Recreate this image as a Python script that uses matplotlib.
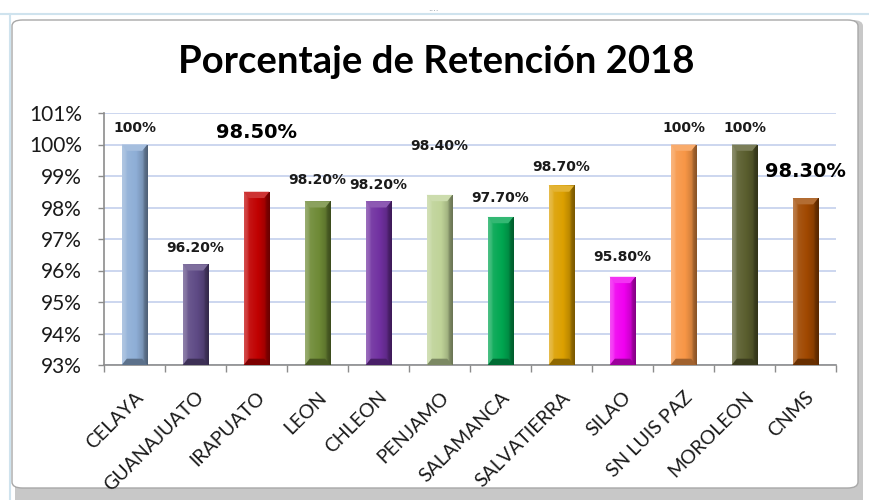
"""Porcentaje de Retención 2018 - bar chart with bevelled Excel-like bars."""

import matplotlib

matplotlib.use("Agg")
import matplotlib.pyplot as plt
import matplotlib.transforms as mtransforms
import numpy as np
from matplotlib.colors import to_rgb
from matplotlib.patches import FancyBboxPatch, Polygon

# ==============================================================================
# DATA
# ==============================================================================

CAMPUSES = [
    "CELAYA", "GUANAJUATO", "IRAPUATO", "LEON", "CHLEON", "PENJAMO",
    "SALAMANCA", "SALVATIERRA", "SILAO", "SN LUIS PAZ", "MOROLEON", "CNMS",
]
RETENTION = [100.0, 96.2, 98.5, 98.2, 98.2, 98.4, 97.7, 98.7, 95.8, 100.0, 100.0, 98.3]
LABELS = ["100%", "96.20%", "98.50%", "98.20%", "98.20%", "98.40%",
          "97.70%", "98.70%", "95.80%", "100%", "100%", "98.30%"]
Y_TICKS = [93, 94, 95, 96, 97, 98, 99, 100, 101]

# ==============================================================================
# STYLE
# ==============================================================================

BAR_COLORS = [
    "#8EAED6", "#5E4A85", "#C00000", "#6E8A36", "#7030A0", "#BFD398",
    "#00A650", "#DCA000", "#F000F0", "#F79646", "#5A5E2E", "#A04800",
]
# label offset above the bar top (points) and whether the label is the large one
LABEL_OFFSET = [12, 12, 43, 15, 12, 35, 14, 13, 14, 12, 12, 19]
LABEL_BIG = [False, False, True, False, False, False,
             False, False, False, False, False, True]

GRID_COLOR = "#C3D0EC"
AXIS_COLOR = "#8C8C8C"
TEXT_COLOR = "#1A1A1A"
FONT = ["Lato", "DejaVu Sans"]


def shade(color, f):
    """Lighten (f > 0) or darken (f < 0) a colour."""
    c = np.array(to_rgb(color))
    if f >= 0:
        return c + (1 - c) * f
    return c * (1 + f)


def draw_bar(ax, patch, color):
    """Fill a bar patch with a horizontal bevel-like gradient."""
    x0, y0 = patch.get_x(), patch.get_y()
    w, h = patch.get_width(), patch.get_height()
    u = np.linspace(0, 1, 60)
    f = np.interp(u, [0, 0.12, 0.2, 0.55, 0.8, 0.88, 1.0],
                  [0.30, 0.22, 0.08, 0.0, -0.15, -0.35, -0.45])
    row = np.array([shade(color, v) for v in f])
    img = np.repeat(row[np.newaxis, :, :], 2, axis=0)
    im = ax.imshow(img, extent=(x0, x0 + w, y0, y0 + h), aspect="auto",
                   interpolation="bilinear", zorder=3, origin="lower")
    im.set_clip_path(patch)

    # top bevel
    top = y0 + h
    bev = 0.2
    ax.add_patch(Polygon(
        [(x0, top), (x0 + w, top), (x0 + w * 0.8, top - bev), (x0 + w * 0.2, top - bev)],
        closed=True, facecolor=shade(color, 0.2), edgecolor="none", zorder=4))
    # bottom bevel
    ax.add_patch(Polygon(
        [(x0, y0), (x0 + w, y0), (x0 + w * 0.8, y0 + bev), (x0 + w * 0.2, y0 + bev)],
        closed=True, facecolor=shade(color, -0.35), edgecolor="none", zorder=4))


# ==============================================================================
# PLOTTING
# ==============================================================================

def plot_figure():
    fig = plt.figure(figsize=(8.69, 5.0), dpi=100)
    fig.patch.set_facecolor("white")

    # spreadsheet background hints
    fig.add_artist(plt.Line2D([0, 1], [1 - 14 / 500] * 2, color="#CFE3EE", lw=1.5))
    fig.add_artist(plt.Line2D([10 / 869] * 2, [0, 1 - 14 / 500], color="#CFE3EE", lw=1.5))
    fig.text(433 / 869, 1 - 12 / 500, "····", ha="center", va="center",
             fontsize=6, color="#7F8C99")

    # chart frame with shadow
    fig.add_artist(FancyBboxPatch(
        (15 / 869, -0.02), 848 / 869, 1 - 20 / 500 + 0.02,
        boxstyle="round,pad=0,rounding_size=0.012", transform=fig.transFigure,
        facecolor="#C8C8C8", edgecolor="none", zorder=0))
    fig.add_artist(FancyBboxPatch(
        (12 / 869, 12 / 500), 846 / 869, 1 - 32 / 500,
        boxstyle="round,pad=0,rounding_size=0.012", transform=fig.transFigure,
        facecolor="white", edgecolor="#A8A8A8", lw=1.0, zorder=0))

    ax = fig.add_axes([104 / 869, 1 - 365 / 500, 732 / 869, 252 / 500])
    ax.set_facecolor("none")

    x = np.arange(len(CAMPUSES))
    bars = ax.bar(x, RETENTION, width=0.42, bottom=0, color="none",
                  edgecolor="none", zorder=3)
    for patch, color in zip(bars, BAR_COLORS):
        patch.set_y(Y_TICKS[0])
        patch.set_height(patch.get_height() - Y_TICKS[0])
        draw_bar(ax, patch, color)

    for xi, val, lab, off, big in zip(x, RETENTION, LABELS, LABEL_OFFSET, LABEL_BIG):
        ax.annotate(lab, (xi, val), xytext=(0, off), textcoords="offset points",
                    ha="center", va="center", fontsize=14 if big else 10,
                    fontweight="bold", family="DejaVu Sans",
                    color="black" if big else TEXT_COLOR, zorder=5)

    ax.set_xlim(-0.5, len(CAMPUSES) - 0.5)
    ax.set_ylim(Y_TICKS[0], Y_TICKS[-1])
    ax.set_yticks(Y_TICKS)
    ax.set_yticklabels([f"{t}%" for t in Y_TICKS], fontsize=15,
                       family=FONT, color=TEXT_COLOR)
    ax.yaxis.grid(True, color=GRID_COLOR, lw=1.2, zorder=0)
    ax.set_axisbelow(True)

    ax.set_xticks(x)
    ax.set_xticklabels(CAMPUSES, rotation=45, ha="right", va="top",
                       rotation_mode="anchor", fontsize=14, family=FONT,
                       color=TEXT_COLOR)
    shift = mtransforms.ScaledTranslation(6 / 72, 0, fig.dpi_scale_trans)
    for lbl in ax.get_xticklabels():
        lbl.set_transform(lbl.get_transform() + shift)
    ax.set_xticks(np.arange(-0.5, len(CAMPUSES)), minor=True)
    ax.tick_params(axis="x", which="major", length=0, pad=17)
    ax.tick_params(axis="x", which="minor", length=5, color=AXIS_COLOR, width=1)
    ax.tick_params(axis="y", length=4, color=AXIS_COLOR, width=1, pad=12)

    for side in ["top", "right"]:
        ax.spines[side].set_visible(False)
    for side in ["left", "bottom"]:
        ax.spines[side].set_color(AXIS_COLOR)
        ax.spines[side].set_linewidth(1.2)

    fig.text(436 / 869, 1 - 62 / 500, "Porcentaje de Retención 2018", ha="center",
             va="center", fontsize=27.5, fontweight="bold", family=FONT,
             color="black")

    return fig


def main():
    fig = plot_figure()
    fig.savefig("out.png", dpi=100)
    plt.close(fig)


if __name__ == "__main__":
    main()
